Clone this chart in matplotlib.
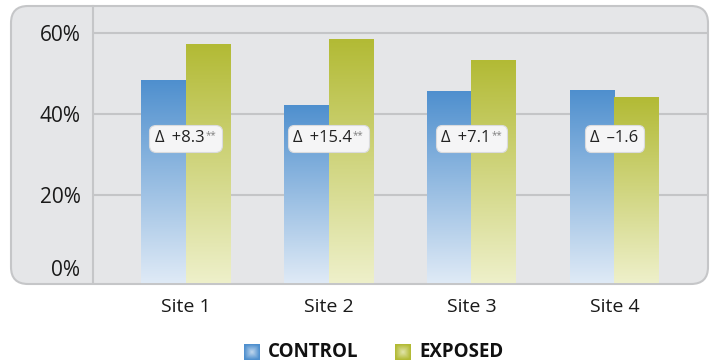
import matplotlib.pyplot as plt
import numpy as np
from matplotlib.patches import FancyBboxPatch
from matplotlib.transforms import IdentityTransform, ScaledTranslation
from matplotlib.offsetbox import TextArea, HPacker, AnnotationBbox
from matplotlib.colors import LinearSegmentedColormap

plt.rcParams['font.family'] = ['Open Sans', 'DejaVu Sans']

sites = ["Site 1", "Site 2", "Site 3", "Site 4"]
control = [48.5, 42.3, 45.8, 46.0]
exposed = [57.4, 58.6, 53.4, 44.3]
deltas = ["+8.3", "+15.4", "+7.1", "\u20131.6"]
stars = ["**", "**", "**", ""]
yticks = [0, 20, 40, 60]

W, H = 716, 364
fig = plt.figure(figsize=(W / 100, H / 100), dpi=100)

# rounded grey panel behind the plot (pixel coords)
panel = FancyBboxPatch((11, 80), 697, 278, boxstyle="round,pad=0,rounding_size=17",
                       transform=IdentityTransform(), fc="#e5e6e8", ec="#c5c6c8",
                       lw=1.5, zorder=-5)
fig.patches.append(panel)

ax = fig.add_axes([93 / W, 81 / H, (708 - 93) / W, (358 - 81) / H])
ax.patch.set_visible(False)
for s in ["top", "right", "bottom"]:
    ax.spines[s].set_visible(False)
ax.spines["left"].set_color("#c5c6c8")
ax.spines["left"].set_linewidth(1.5)

for yv in yticks[1:]:
    ax.axhline(yv, color="#c4c5c7", lw=1.5, zorder=1)

x = np.arange(len(sites))
w = 0.311
ax.set_xlim(-0.647, 3.654)
ax.set_ylim(-1.65, 66.7)
bottom = ax.get_ylim()[0]

blue_cm = LinearSegmentedColormap.from_list("b", ["#dfeaf6", "#4e8fce"])
green_cm = LinearSegmentedColormap.from_list("g", ["#eef0ca", "#b2ba34"])
grad = np.linspace(0, 1, 256).reshape(-1, 1)


def gradient_bars(bars, cmap):
    for b in bars:
        x0, y0 = b.get_x(), b.get_y()
        x1, y1 = x0 + b.get_width(), y0 + b.get_height()
        im = ax.imshow(grad, cmap=cmap, aspect="auto", origin="lower",
                       extent=(x0, x1, y0, y1), zorder=2)
        im.set_clip_path(b)
        b.set_facecolor("none")


cb = ax.bar(x - w / 2, np.array(control) - bottom, w, bottom=bottom, lw=0, zorder=2)
eb = ax.bar(x + w / 2, np.array(exposed) - bottom, w, bottom=bottom, lw=0, zorder=2)
gradient_bars(cb, blue_cm)
gradient_bars(eb, green_cm)
ax.set_xlim(-0.647, 3.654)
ax.set_ylim(-1.65, 66.7)

# delta labels
for xi, d, st in zip(x, deltas, stars):
    parts = [TextArea("\u0394\u2009 " + d, textprops=dict(fontsize=12, color="#222222"))]
    if st:
        parts.append(TextArea(st, textprops=dict(fontsize=7, color="#808080")))
    pack = HPacker(children=parts, align="top", pad=0, sep=0.5)
    ab = AnnotationBbox(pack, (xi, 34.1), frameon=True, pad=0.4, zorder=5,
                        bboxprops=dict(boxstyle="round,pad=0.4,rounding_size=0.45",
                                       fc="#f5f5f6", ec="#dadbdd", lw=0.8))
    ax.add_artist(ab)

ax.set_xticks(x)
ax.set_xticklabels(sites, fontsize=14, color="#1a1a1a")
ax.set_yticks(yticks)
ax.set_yticklabels([f"{v}%" for v in yticks], fontsize=15, color="#1a1a1a")
ax.tick_params(axis="x", length=0, pad=11)
ax.tick_params(axis="y", length=0, pad=9)
lab0 = ax.get_yticklabels()[0]
lab0.set_transform(lab0.get_transform() + ScaledTranslation(0, 8 / 100, fig.dpi_scale_trans))

# legend with glowing squares
yy, xx = np.mgrid[-1:1:40j, -1:1:40j]
rad = np.clip(np.maximum(np.abs(xx), np.abs(yy)) * 0.6 + np.hypot(xx, yy) * 0.4, 0, 1)
legend_items = [("CONTROL", blue_cm, 244), ("EXPOSED", green_cm, 395)]
for name, cmap, px in legend_items:
    sq = fig.add_axes([px / W, 4 / H, 16 / W, 16 / H])
    sq.imshow(rad, cmap=cmap, vmin=-0.25, vmax=1.0)
    sq.axis("off")
    fig.text((px + 24) / W, 12 / H, name, fontsize=13.5, fontweight="bold",
             color="#111111", va="center", ha="left")

fig.savefig("out.png", dpi=100)
